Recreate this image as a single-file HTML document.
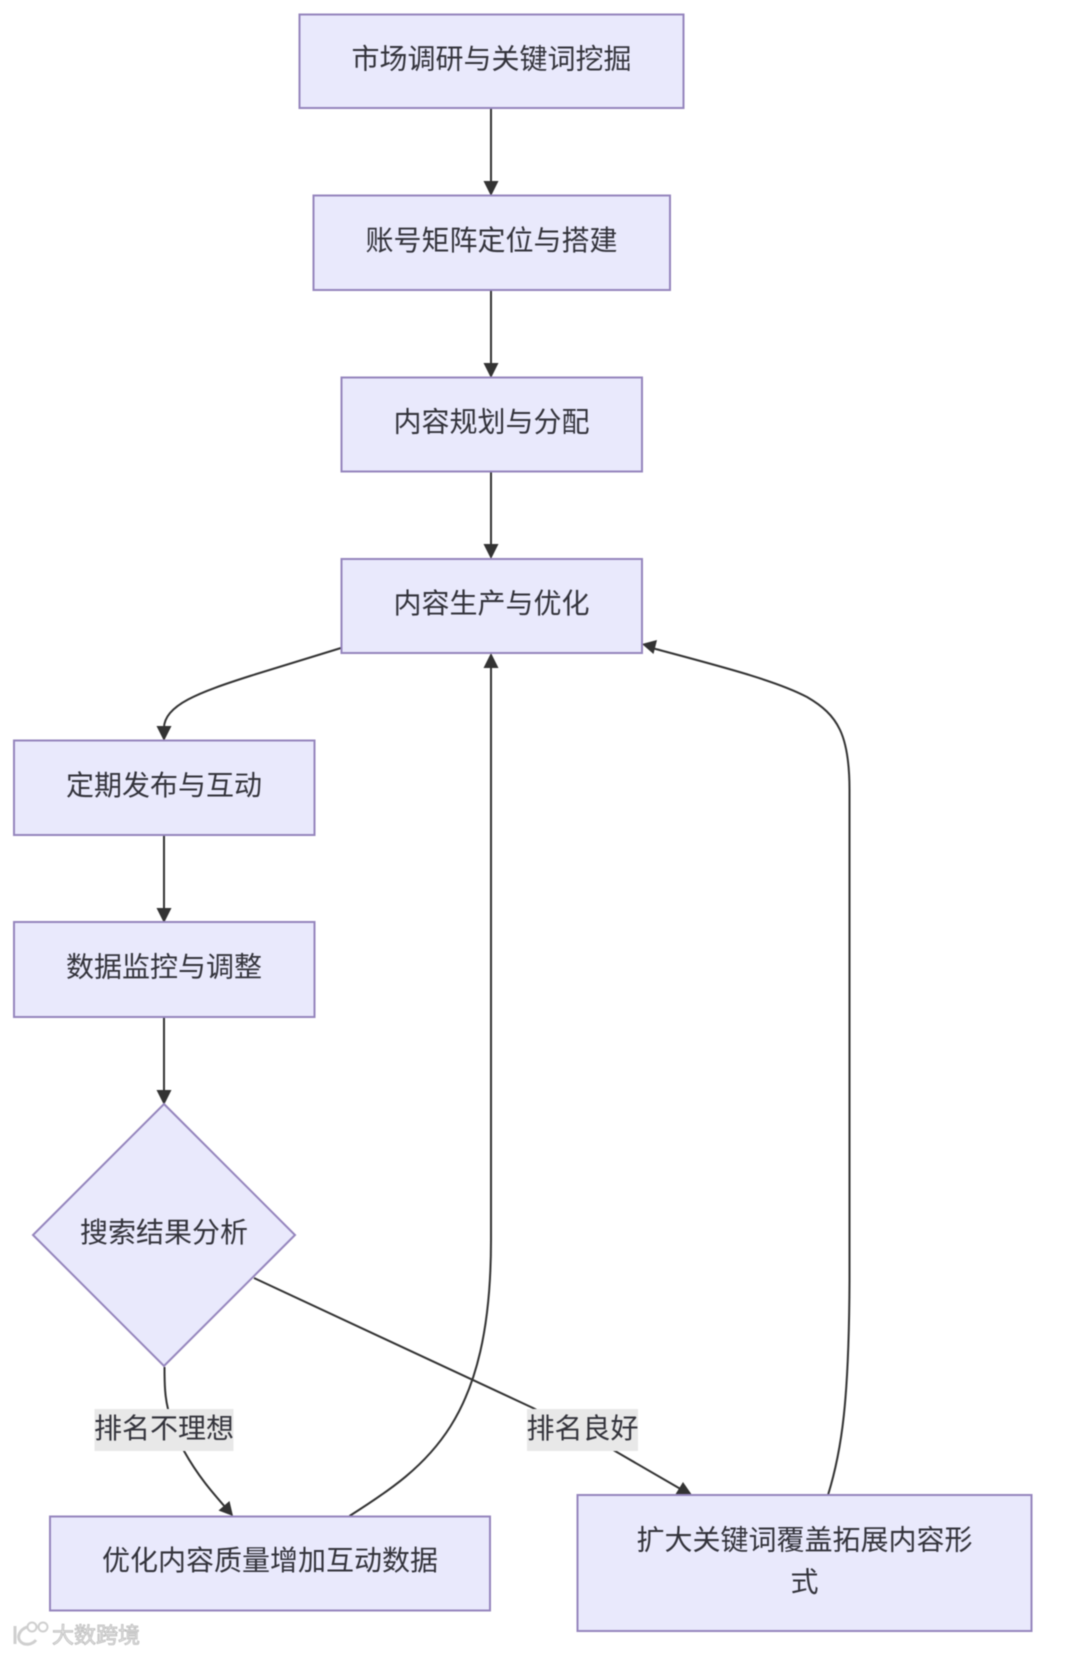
<!DOCTYPE html>
<html lang="zh">
<head>
<meta charset="utf-8">
<style>
html,body{margin:0;padding:0;background:#fff;width:1080px;height:1654px;overflow:hidden}
svg{display:block;filter:blur(.45px)}
text{font-family:"Liberation Sans","Noto Sans CJK SC",sans-serif;font-size:28px;fill:#33333b;text-anchor:middle}
.n{fill:#e9e9fc;stroke:#9585bd;stroke-width:2}
.e{fill:none;stroke:#333;stroke-width:2}
.a{fill:#333}
.l{fill:#e8e8e8}
.w{font-size:22px;fill:#e6e6e6;stroke:#bdbdbd;stroke-width:.8;text-anchor:start}
</style>
</head>
<body>
<svg width="1080" height="1654" viewBox="0 0 1080 1654" xmlns="http://www.w3.org/2000/svg">
<!-- straight edges -->
<path class="e" d="M491 108V183M491 290V365M491 471V546M164 835V910M164 1017V1092"/>
<polygon class="a" points="483.5,181 498.5,181 491,196"/>
<polygon class="a" points="483.5,363 498.5,363 491,378"/>
<polygon class="a" points="483.5,544 498.5,544 491,559"/>
<polygon class="a" points="156.5,908 171.5,908 164,923"/>
<polygon class="a" points="156.5,1090 171.5,1090 164,1105"/>

<!-- box4 to box5 -->
<path class="e" d="M341 648L250 676C200 692 164 705 164 728"/>
<polygon class="a" points="156.5,726 171.5,726 164,741"/>

<!-- diamond to box7 -->
<path class="e" d="M164.5 1367C164.5 1385 165 1397 168 1409C172 1425 178 1440 184 1451C198 1476 212 1492 226 1508"/>
<polygon class="a" points="218.5,1510.5 229.5,1501 233,1516"/>

<!-- diamond to box8 -->
<path class="e" d="M254 1278L533 1408L615 1451L684 1491"/>
<polygon class="a" points="692,1495 683,1482 675,1495"/>

<!-- box7 to box4 -->
<path class="e" d="M349.5 1516C430 1465 491 1420 491 1240V665"/>
<polygon class="a" points="483.5,668 498.5,668 491,653"/>

<!-- box8 to box4 -->
<path class="e" d="M828 1495C842 1450 849 1400 849.5 1280V790C849.5 735 838 715 807 697C775 680 715 665 652 648"/>
<polygon class="a" points="642,644 657,640 653.5,654"/>

<!-- nodes -->
<rect class="n" x="299.5" y="14.5" width="384" height="93.5"/>
<rect class="n" x="313.5" y="195.5" width="356.5" height="94.5"/>
<rect class="n" x="341.5" y="377.5" width="300.5" height="94"/>
<rect class="n" x="341.5" y="559" width="300.5" height="94"/>
<rect class="n" x="14" y="740.5" width="300.5" height="94.5"/>
<rect class="n" x="14" y="922" width="300.5" height="95"/>
<polygon class="n" points="164,1104 295,1235 164,1366 33,1235"/>
<rect class="n" x="50" y="1516.5" width="440" height="94"/>
<rect class="n" x="577.5" y="1495" width="454" height="136"/>

<!-- edge labels -->
<rect class="l" x="94.5" y="1409" width="139" height="42"/>
<rect class="l" x="527" y="1409" width="111" height="42"/>
<text x="164" y="1438">排名不理想</text>
<text x="582.5" y="1438">排名良好</text>

<!-- node labels -->
<text x="491.5" y="68.5">市场调研与关键词挖掘</text>
<text x="491.5" y="250">账号矩阵定位与搭建</text>
<text x="491.5" y="431.5">内容规划与分配</text>
<text x="491.5" y="613">内容生产与优化</text>
<text x="164" y="795">定期发布与互动</text>
<text x="164" y="976.5">数据监控与调整</text>
<text x="164" y="1242">搜索结果分析</text>
<text x="270" y="1570">优化内容质量增加互动数据</text>
<text x="804.5" y="1549.5">扩大关键词覆盖拓展内容形</text>
<text x="804.5" y="1591.5">式</text>

<!-- watermark -->
<g fill="none" stroke="#cfcfcf" stroke-width="3">
<path d="M15 1626V1644"/>
<path d="M27 1627C19 1630 17 1637 20 1641C24 1646 32 1645 36 1640"/>
<circle cx="32" cy="1627" r="4.5" stroke-width="2"/>
<circle cx="43" cy="1627" r="4.5" stroke-width="2"/>
</g>
<text class="w" x="52" y="1643">大数跨境</text>
</svg>
</body>
</html>
